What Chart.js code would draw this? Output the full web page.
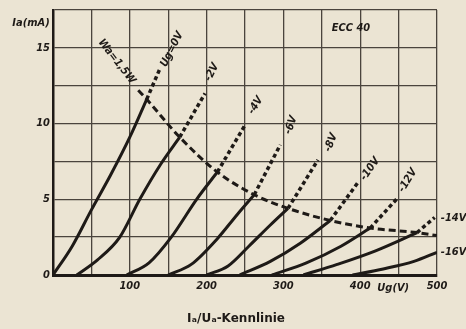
<!DOCTYPE html>
<html>
<head>
<meta charset="utf-8">
<script src="https://cdn.jsdelivr.net/npm/chart.js@4.4.0/dist/chart.umd.min.js"></script>
<style>
html, body { margin: 0; padding: 0; background: #ebe4d3; }
#wrap { width: 466px; height: 329px; }
</style>
</head>
<body>
<div id="wrap"><canvas id="kennlinie" width="466" height="329"></canvas></div>
<script>
// Ia/Ua characteristic of the ECC40 (Ua in V, Ia in mA)
const ug0Solid = [[0, 0], [25, 1.9], [50, 4.3], [75, 6.6], [100, 9.1], [122, 11.6]];
const ug0Dashed = [[122, 11.6], [139, 13.6]];
const ug2Solid = [[31, 0], [58, 1.0], [87, 2.5], [113, 5.0], [140, 7.3], [165, 9.1]];
const ug2Dashed = [[165, 9.1], [198, 12.0]];
const ug4Solid = [[96, 0], [125, 0.8], [154, 2.5], [187, 5.0], [214, 6.8]];
const ug4Dashed = [[214, 6.8], [250, 9.9]];
const ug6Solid = [[150, 0], [180, 0.7], [214, 2.4], [240, 4.0], [262, 5.3]];
const ug6Dashed = [[262, 5.3], [296, 8.6]];
const ug8Solid = [[200, 0], [228, 0.6], [255, 1.9], [283, 3.3], [306, 4.4]];
const ug8Dashed = [[306, 4.4], [345, 7.6]];
const ug10Solid = [[243, 0], [283, 0.9], [322, 2.1], [361, 3.6]];
const ug10Dashed = [[361, 3.6], [397, 6.1]];
const ug12Solid = [[285, 0], [330, 0.8], [375, 1.9], [413, 3.1]];
const ug12Dashed = [[413, 3.1], [449, 5.1]];
const ug14Solid = [[326, 0], [370, 0.7], [420, 1.6], [474, 2.8]];
const ug14Dashed = [[474, 2.8], [497, 3.8]];
const ug16Solid = [[390, 0], [430, 0.4], [470, 0.9], [500, 1.5]];
const powerLimit = [[111, 12.2], [122, 11.6], [165, 9.1], [214, 6.8], [262, 5.3], [306, 4.4], [361, 3.6], [413, 3.1], [474, 2.8], [500, 2.6]];

const gridVoltages = ["Ug=0V", "-2V", "-4V", "-6V", "-8V", "-10V", "-12V", "-14V", "-16V"];
const xTickLabels = [100, 200, 300, 400, 500];
const yTickLabels = [0, 5, 10, 15];

const ink = "#1e1a17";
const gridInk = "#4a443d";
const labelFont = "italic bold 11px 'DejaVu Sans Condensed', 'DejaVu Sans', sans-serif";

const toXY = pts => pts.map(p => ({ x: p[0], y: p[1] }));

function solid(pts) {
    return { data: toXY(pts), borderColor: ink, borderWidth: 3, cubicInterpolationMode: "monotone" };
}
function dashed(pts) {
    return { data: toXY(pts), borderColor: ink, borderWidth: 3.5, borderDash: [4, 3] };
}

const datasets = [
    solid(ug0Solid), dashed(ug0Dashed),
    solid(ug2Solid), dashed(ug2Dashed),
    solid(ug4Solid), dashed(ug4Dashed),
    solid(ug6Solid), dashed(ug6Dashed),
    solid(ug8Solid), dashed(ug8Dashed),
    solid(ug10Solid), dashed(ug10Dashed),
    solid(ug12Solid), dashed(ug12Dashed),
    solid(ug14Solid), dashed(ug14Dashed),
    solid(ug16Solid),
    { data: toXY(powerLimit), borderColor: ink, borderWidth: 3, borderDash: [7, 4], cubicInterpolationMode: "monotone" }
];

// where the curve names sit: [text, Ua, Ia, angle in degrees, align]
const curveNotes = [
    [gridVoltages[0], 155, 14.9, -63, "center"],
    [gridVoltages[1], 207, 13.4, -63, "center"],
    [gridVoltages[2], 264, 11.2, -58, "center"],
    [gridVoltages[3], 310, 9.9, -70, "center"],
    [gridVoltages[4], 362, 8.75, -68, "center"],
    [gridVoltages[5], 413, 7.0, -55, "center"],
    [gridVoltages[6], 462, 6.25, -58, "center"],
    [gridVoltages[7], 505, 3.75, 0, "left"],
    [gridVoltages[8], 505, 1.5, 0, "left"],
    ["Wa=1,5W", 83, 14.1, 52, "center"],
    ["ECC 40", 388, 16.3, 0, "center"]
];

const paper = {
    id: "paper",
    beforeDraw(chart) {
        const ctx = chart.ctx;
        ctx.save();
        ctx.fillStyle = "#ebe4d3";
        ctx.fillRect(0, 0, chart.width, chart.height);
        ctx.restore();
    },
    afterDraw(chart) {
        const ctx = chart.ctx;
        const xs = chart.scales.x, ys = chart.scales.y;
        ctx.save();
        ctx.fillStyle = ink;
        ctx.textBaseline = "middle";
        ctx.font = labelFont;
        curveNotes.forEach(n => {
            ctx.save();
            ctx.translate(xs.getPixelForValue(n[1]), ys.getPixelForValue(n[2]));
            ctx.rotate(n[3] * Math.PI / 180);
            ctx.textAlign = n[4];
            ctx.fillText(n[0], 0, 0);
            ctx.restore();
        });
        ctx.textAlign = "center";
        ctx.fillText("Ia(mA)", 31, 23);
        ctx.fillText("Ug(V)", xs.getPixelForValue(443), 288);
        ctx.font = "bold 12px 'DejaVu Sans', sans-serif";
        ctx.fillText("Iₐ/Uₐ-Kennlinie", 236, 319);
        ctx.restore();
    }
};

new Chart(document.getElementById("kennlinie"), {
    type: "line",
    data: { datasets: datasets },
    options: {
        responsive: false,
        animation: false,
        devicePixelRatio: 1,
        layout: { padding: { left: 0, right: 29, top: 10, bottom: 0 } },
        elements: { point: { radius: 0 }, line: { fill: false } },
        plugins: { legend: { display: false }, tooltip: { enabled: false } },
        scales: {
            x: {
                type: "linear",
                min: 0,
                max: 500,
                afterFit: s => { s.height = 54; },
                ticks: {
                    stepSize: 50,
                    autoSkip: false,
                    maxRotation: 0,
                    padding: 5,
                    color: ink,
                    font: { family: "'DejaVu Sans Condensed', sans-serif", size: 11, style: "italic", weight: "bold" },
                    callback: v => xTickLabels.includes(v) ? String(v) : ""
                },
                grid: { color: gridInk, lineWidth: 1.3, drawTicks: false },
                border: { color: ink, width: 3 }
            },
            y: {
                min: 0,
                max: 17.5,
                afterFit: s => { s.width = 53; },
                ticks: {
                    stepSize: 2.5,
                    autoSkip: false,
                    padding: 3,
                    color: ink,
                    font: { family: "'DejaVu Sans Condensed', sans-serif", size: 11, style: "italic", weight: "bold" },
                    callback: v => yTickLabels.includes(v) ? String(v) : ""
                },
                grid: { color: gridInk, lineWidth: 1.3, drawTicks: false },
                border: { color: ink, width: 2.5 }
            }
        }
    },
    plugins: [paper]
});
</script>
</body>
</html>
